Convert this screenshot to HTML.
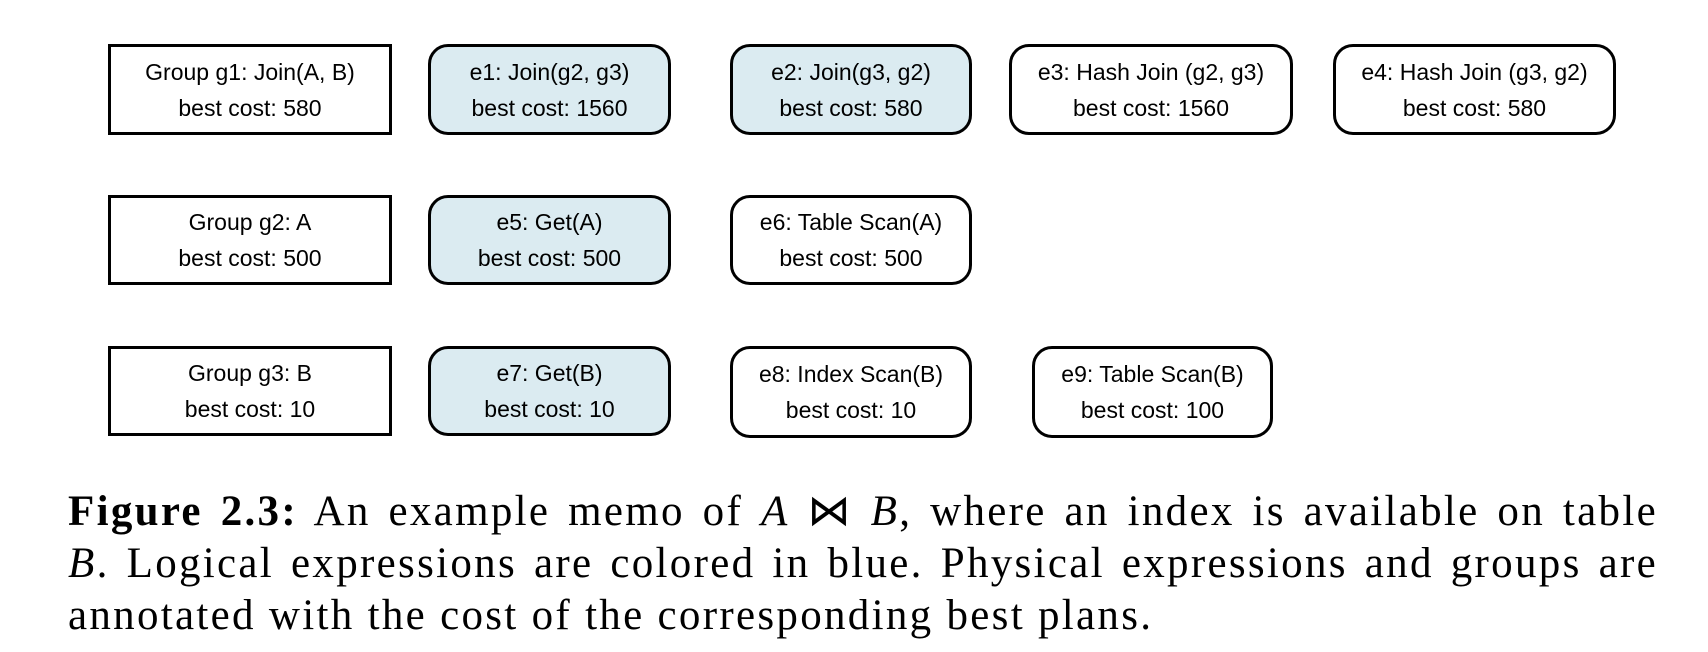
<!DOCTYPE html>
<html><head><meta charset="utf-8"><style>
body{margin:0;width:1708px;height:652px;background:#fff;position:relative;overflow:hidden;font-family:"Liberation Sans",sans-serif}
.b{position:absolute;box-sizing:border-box;border:3px solid #000;display:flex;flex-direction:column;justify-content:center;align-items:center;text-align:center;font-size:23px;line-height:36px;color:#000;white-space:nowrap}
.b span{display:block;text-align:center}
.r{border-radius:20px}
.l{background:#dbebf1}
.cap{position:absolute;left:68px;top:486px;width:1590px;font-family:"Liberation Serif",serif;font-size:43px;letter-spacing:2.3px;line-height:52px}
.cap div{white-space:nowrap;text-align:justify;text-align-last:justify}
.cap div.last{text-align-last:left}
</style></head><body>
<div class="b" style="left:108px;top:44px;width:284px;height:91px"><span>Group g1: Join(A, B)</span><span>best cost: 580</span></div>
<div class="b r l" style="left:428px;top:44px;width:243px;height:91px"><span>e1: Join(g2, g3)</span><span>best cost: 1560</span></div>
<div class="b r l" style="left:730px;top:44px;width:242px;height:91px"><span>e2: Join(g3, g2)</span><span>best cost: 580</span></div>
<div class="b r" style="left:1009px;top:44px;width:284px;height:91px"><span>e3: Hash Join (g2, g3)</span><span>best cost: 1560</span></div>
<div class="b r" style="left:1333px;top:44px;width:283px;height:91px"><span>e4: Hash Join (g3, g2)</span><span>best cost: 580</span></div>
<div class="b" style="left:108px;top:195px;width:284px;height:90px"><span>Group g2: A</span><span>best cost: 500</span></div>
<div class="b r l" style="left:428px;top:195px;width:243px;height:90px"><span>e5: Get(A)</span><span>best cost: 500</span></div>
<div class="b r" style="left:730px;top:195px;width:242px;height:90px"><span>e6: Table Scan(A)</span><span>best cost: 500</span></div>
<div class="b" style="left:108px;top:346px;width:284px;height:90px"><span>Group g3: B</span><span>best cost: 10</span></div>
<div class="b r l" style="left:428px;top:346px;width:243px;height:90px"><span>e7: Get(B)</span><span>best cost: 10</span></div>
<div class="b r" style="left:730px;top:346px;width:242px;height:92px"><span>e8: Index Scan(B)</span><span>best cost: 10</span></div>
<div class="b r" style="left:1032px;top:346px;width:241px;height:92px"><span>e9: Table Scan(B)</span><span>best cost: 100</span></div>
<div class="cap">
<div><b>Figure 2.3:</b> An example memo of <i>A</i> ⋈ <i>B</i>, where an index is available on table</div>
<div><i>B</i>. Logical expressions are colored in blue. Physical expressions and groups are</div>
<div class="last">annotated with the cost of the corresponding best plans.</div>
</div>
</body></html>
